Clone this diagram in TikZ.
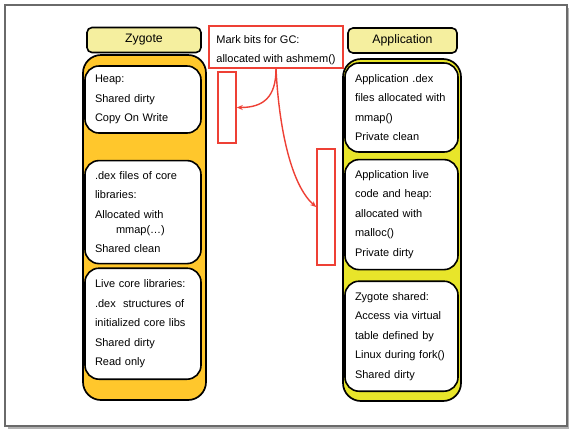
\documentclass[tikz,border=0pt]{standalone}
\usepackage{fontspec}
\setmainfont{Liberation Sans}
\usepackage{xcolor}
\usetikzlibrary{arrows.meta,positioning}

\definecolor{zygorange}{HTML}{FFC72C}
\definecolor{appyellow}{HTML}{E8E52A}
\definecolor{labelyellow}{HTML}{F5EF9F}
\definecolor{markred}{HTML}{EE4035}
\definecolor{framegray}{HTML}{6A6A6A}

\begin{document}
\begin{tikzpicture}[
  x=1bp, y=-1bp,                            % one unit = one pixel of the slide
  font=\fontsize{11bp}{19.5bp}\selectfont,
  titlebox/.style  = {draw,
                      line width=1.6bp,
                      rounded corners=5bp,
                      fill=labelyellow,
                      font=\fontsize{12.3bp}{14bp}\selectfont,
                      minimum height=25bp},
  regionbox/.style = {draw,
                      line width=1.7bp,
                      rounded corners=18bp},
  memblock/.style  = {draw,
                      fill=white,
                      line width=1.6bp,
                      rounded corners=14bp,
                      align=left,
                      inner xsep=10bp,
                      inner ysep=0pt},
  markbox/.style   = {draw=markred,
                      fill=white,
                      line width=1.6bp,
                      align=left,
                      inner xsep=7.5bp,
                      inner ysep=0pt},
  bitsbar/.style   = {draw=markred,
                      fill=white,
                      line width=1.6bp,
                      minimum width=18bp,
                      inner sep=0pt},
  markarrow/.style = {draw=markred, line width=1.4bp,
                      -{Stealth[length=6bp,width=5bp]}}
]
\useasboundingbox (0,0) rectangle (571,431);

% slide frame
\fill[black!30] (7.5,7.5) rectangle (569,428.5);
\draw[framegray, line width=2bp, fill=white] (4.5,4.5) rectangle (566.5,425.5);

% Zygote column
\node[titlebox, minimum width=114bp] (zygotetitle) at (144,40) {Zygote};
\node[regionbox, fill=zygorange, minimum width=123bp, minimum height=345bp] (zygote) at (144.5,227.5) {};

\node[memblock, text width=96bp, minimum height=67bp] (heap) at (143,99.5)
  {Heap:\\Shared dirty\\Copy On Write};
\node[memblock, text width=96bp, minimum height=103bp, below=26bp of heap] (dexcore)
  {.dex files of core\\libraries:\\Allocated with\\[-4.5bp]\hspace*{21bp}mmap(…)\\Shared clean};
\node[memblock, text width=96bp, minimum height=111bp, below=3bp of dexcore] (livecore)
  {Live core libraries:\\.dex\ \ structures of\\initialized core libs\\Shared dirty\\Read only};

% Application column
\node[titlebox, minimum width=109bp] (apptitle) at (402.5,40.5) {Application};
\node[regionbox, fill=appyellow, minimum width=118bp, minimum height=342bp] (app) at (402,230) {};

\node[memblock, text width=93bp, minimum height=89bp] (appdex) at (401.5,107.5)
  {Application .dex\\files allocated with\\mmap()\\Private clean};
\node[memblock, text width=93bp, minimum height=110bp, below=6bp of appdex] (appheap)
  {Application live\\code and heap:\\allocated with\\malloc()\\Private dirty};
\node[memblock, text width=93bp, minimum height=110bp, below=10bp of appheap] (zygshared)
  {Zygote shared:\\Access via virtual\\table defined by\\Linux during fork()\\Shared dirty};

% GC mark bits
\node[markbox, minimum width=134bp, minimum height=42bp] (markbits) at (276,47)
  {\rule{0pt}{14bp}Mark bits for GC:\\allocated with ashmem()};
\node[bitsbar, minimum height=71bp]  (gcbitsA) at (227,107.5) {};
\node[bitsbar, minimum height=116bp] (gcbitsB) at (326,207) {};

\draw[markarrow] (markbits.south) .. controls +(0,28) and +(27,0) .. (gcbitsA.east);
\draw[markarrow] (markbits.south) .. controls +(3,60) and +(-25,-22) .. (gcbitsB.west);

\end{tikzpicture}
\end{document}
